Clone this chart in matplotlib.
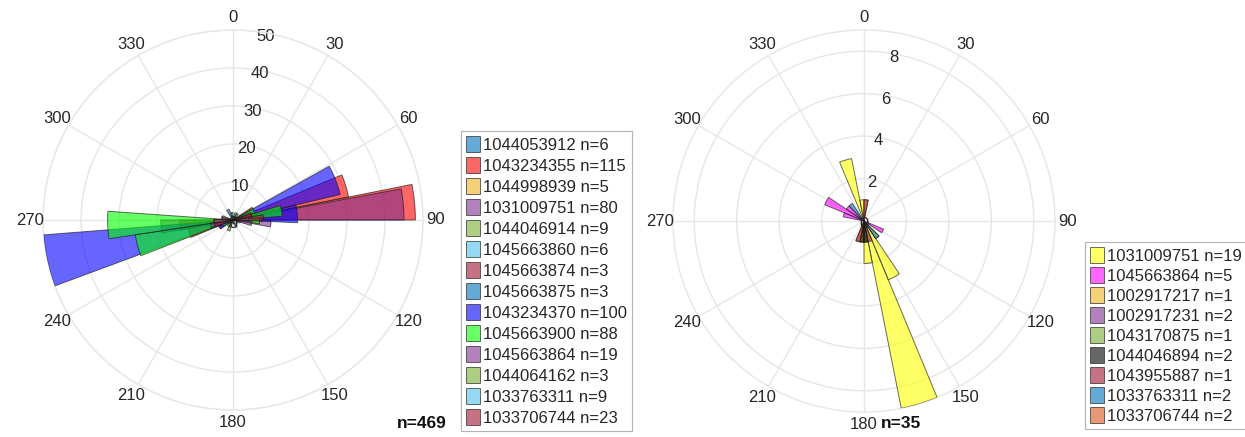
import numpy as np
import matplotlib
matplotlib.use("Agg")
import matplotlib.pyplot as plt

plt.rcParams['font.family'] = ['Liberation Sans', 'DejaVu Sans']

# ---------------- data ----------------
left_ids = ["1044053912", "1043234355", "1044998939", "1031009751", "1044046914",
            "1045663860", "1045663874", "1045663875", "1043234370", "1045663900",
            "1045663864", "1044064162", "1033763311", "1033706744"]
left_n = [6, 115, 5, 80, 9, 6, 3, 3, 100, 88, 19, 3, 9, 23]
# bin start angles (deg, clockwise from north), bin widths (deg), counts
left_starts = [[326, 146, 240],
               [56.25, 67.5, 78.75, 236.25, 247.5, 258.75],
               [100, 280],
               [79.5, 90, 259.5, 249, 69],
               [195, 210, 15, 30],
               [60, 240],
               [75, 255],
               [345, 165],
               [60.8, 76.6, 233.9, 249.7],
               [60.4, 73.0, 85.6, 236.2, 248.8, 261.4],
               [95, 275, 250, 70],
               [200, 20],
               [80, 260],
               [80, 260, 68, 248]]
left_widths = [15, 11.25, 12, 10.5, 15, 15, 15, 15, 15.8, 12.6, 12, 12, 12, 12]
left_counts = [[3, 2, 1],
               [6, 31, 48, 4, 12, 14],
               [2, 3],
               [45, 10, 19, 3, 3],
               [3, 2, 2, 2],
               [3, 3],
               [2, 1],
               [2, 1],
               [29, 17, 4, 50],
               [6, 13, 7, 3, 26, 33],
               [5, 3, 6, 5],
               [2, 1],
               [4, 5],
               [8, 5, 5, 5]]

right_ids = ["1031009751", "1045663864", "1002917217", "1002917231", "1043170875",
             "1044046894", "1043955887", "1033763311", "1033706744"]
right_n = [19, 5, 1, 2, 1, 2, 1, 2, 2]
right_starts = [[157.5, 146.25, 168.75, 337.5, 348.75, 135],
                [292.5, 303.75, 112.5, 281.25],
                [180],
                [0, 191.25],
                [168.75],
                [168.75, 180],
                [157.5],
                [315, 135],
                [191.25, 0]]
right_widths = [11.25] * 9
right_counts = [[9, 3, 2, 3, 1, 1],
                [2, 1, 1, 1],
                [1],
                [1, 1],
                [1],
                [1, 1],
                [1],
                [1, 1],
                [1, 1]]

left_total = "n=469"
right_total = "n=35"
theta_ticks = list(range(0, 360, 30))
left_rticks = [0, 10, 20, 30, 40, 50]
left_rmax = 50
right_rticks = [0, 2, 4, 6, 8]
right_rmax = 9

# ---------------- styles ----------------
c1 = (0, 0.447, 0.741)
c2 = (0.85, 0.325, 0.098)
c3 = (0.929, 0.694, 0.125)
c4 = (0.494, 0.184, 0.556)
c5 = (0.466, 0.674, 0.188)
c6 = (0.301, 0.745, 0.933)
c7 = (0.635, 0.078, 0.184)
left_colors = [c1, (1, 0, 0), c3, c4, c5, c6, c7, c1, (0, 0, 1), (0, 1, 0), c4, c5, c6, c7]
right_colors = [(1, 1, 0), (1, 0, 1), c3, c4, c5, (0, 0, 0), c7, c1, c2]

W, H = 1245, 437
fig = plt.figure(figsize=(W / 100, H / 100), dpi=100)

grid_col = '#e6e6e6'
txt_col = '#262626'


def make_panel(rect, ids, ns, starts, widths, counts, colors, rticks, rmax):
    ax = fig.add_axes(rect, projection='polar')
    ax.set_theta_zero_location('N')
    ax.set_theta_direction(-1)
    ax.set_axisbelow(True)
    for i in range(len(ids)):
        st = np.array(starts[i], dtype=float)
        w = widths[i]
        th = np.deg2rad(st + w / 2.0)
        ax.bar(th, counts[i], width=np.deg2rad(w), bottom=0, align='center',
               facecolor=(*colors[i], 0.6), edgecolor=(0.1, 0.1, 0.1, 0.65),
               linewidth=0.7, label=f"{ids[i]} n={ns[i]}", zorder=3)
    ax.set_ylim(0, rmax)
    ax.set_thetagrids(theta_ticks, [''] * len(theta_ticks))
    for t in theta_ticks:
        ax.text(np.deg2rad(t), rmax * 1.068, str(t), fontsize=12, color=txt_col,
                ha='center', va='center', clip_on=False)
    ax.set_rticks(rticks)
    ax.set_yticklabels([])
    for r in rticks:
        ax.annotate(str(r), xy=(np.deg2rad(10), r), xytext=(0, -2.5),
                    textcoords='offset points', fontsize=12, color=txt_col,
                    ha='center', va='center', zorder=1)
    ax.grid(True, color=grid_col, linewidth=1.0)
    ax.spines['polar'].set_color(grid_col)
    ax.spines['polar'].set_linewidth(1.0)
    return ax


axL = make_panel([43 / W, 27 / H, 380 / W, 380 / H], left_ids, left_n, left_starts,
                 left_widths, left_counts, left_colors, left_rticks, left_rmax)
axR = make_panel([673 / W, 25 / H, 382 / W, 382 / H], right_ids, right_n, right_starts,
                 right_widths, right_counts, right_colors, right_rticks, right_rmax)

leg_kw = dict(loc='upper left', fontsize=12, frameon=True, fancybox=False,
              handlelength=0.85, handleheight=1.1, handletextpad=0.15,
              borderpad=0.3, borderaxespad=0.0)
lL = fig.legend(handles=axL.containers, labels=[f"{a} n={b}" for a, b in zip(left_ids, left_n)],
                bbox_to_anchor=(461 / W, 1 - 131 / H), labelspacing=0.26, **leg_kw)
lR = fig.legend(handles=axR.containers, labels=[f"{a} n={b}" for a, b in zip(right_ids, right_n)],
                bbox_to_anchor=(1085 / W, 1 - 242 / H), labelspacing=0.2, **leg_kw)
for lg in (lL, lR):
    lg.get_frame().set_edgecolor('#a0a0a0')
    lg.get_frame().set_linewidth(0.8)
    for t in lg.get_texts():
        t.set_color(txt_col)

fig.text(397 / W, 1 - 423 / H, left_total, fontsize=12.5, fontweight='bold',
         ha='left', va='center', color='#111111')
fig.text(881 / W, 1 - 423 / H, right_total, fontsize=12.5, fontweight='bold',
         ha='left', va='center', color='#111111')

fig.savefig("out.png", dpi=100, facecolor='white')
